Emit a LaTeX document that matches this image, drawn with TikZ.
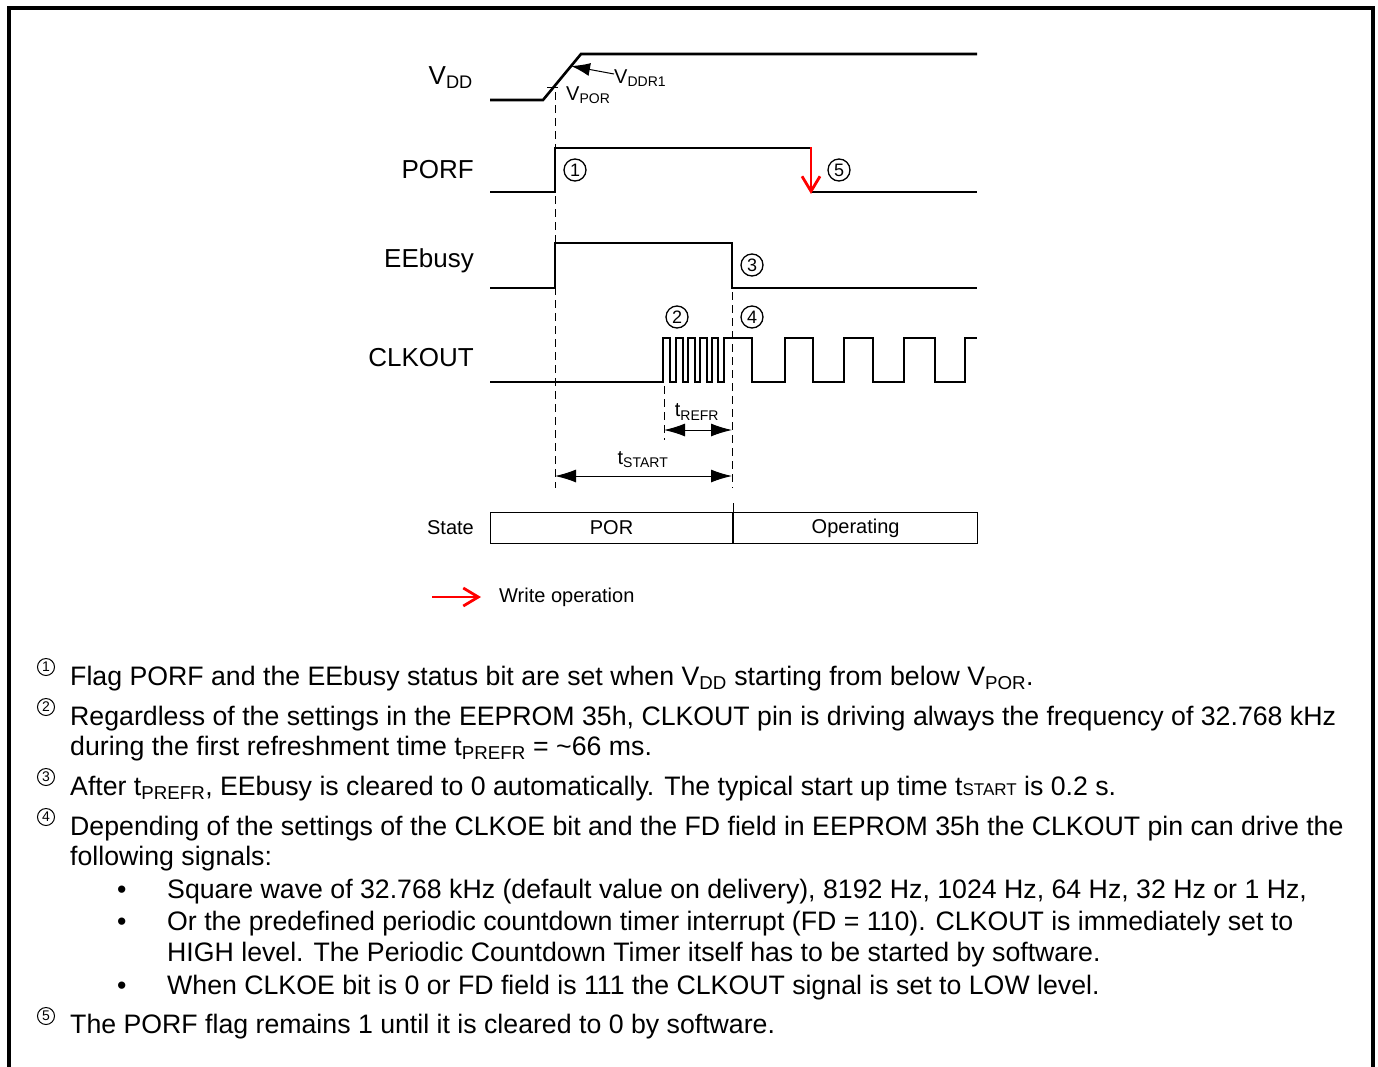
\documentclass[tikz,border=0pt]{standalone}
\usepackage{fontspec}
\setmainfont{Liberation Sans}
\usetikzlibrary{arrows.meta, positioning}
\definecolor{writered}{RGB}{255,0,0}
\newcommand{\sz}[1]{\fontsize{#1}{#1}\selectfont}

\begin{document}
\begin{tikzpicture}[
    x=1pt, y=-1pt,
    every node/.style={inner sep=0pt},
    signal/.style={line width=2.6pt, line join=miter},
    guide/.style={line width=0.9pt, dash pattern=on 8pt off 5pt},
    dimarrow/.style={line width=1pt, {Latex[length=21pt,width=13pt]}-{Latex[length=21pt,width=13pt]}},
    writearrow/.style={line width=2.8pt, writered, -{Straight Barb[length=15pt,width=18pt]}},
    siglabel/.style={font=\sz{26}, anchor=east},
    smalllabel/.style={font=\sz{20}},
    statebox/.style={draw, line width=1.1pt, minimum height=31pt, font=\sz{20}},
    marker/.style={circle, draw, line width=1.3pt, minimum size=22pt, font=\sz{18}},
    notenum/.style={circle, draw, line width=1pt, minimum size=17pt, font=\sz{14}},
    notetext/.style={font=\fontsize{26.7}{30}\selectfont, anchor=base west}
]
\useasboundingbox (0,0) rectangle (1378,1066);

% frame
\draw[line width=3.5pt] (9,1072) -- (9,8) -- (1373,8) -- (1373,1072);

% signal names
\node[siglabel] (vddlbl) at (473,78) {V\textsubscript{DD}};
\node[siglabel] (porflbl) at (474,170) {PORF};
\node[siglabel] (eebusylbl) at (474,261) {EEbusy};
\node[siglabel] (clkoutlbl) at (474,358) {CLKOUT};
\node[smalllabel, anchor=east] (statelbl) at (474,528) {State};

% waveforms
\draw[signal] (490,100) -- (543,100) -- (581,54) -- (977,54);
\draw[signal] (490,192) -- (555,192) -- (555,148) -- (811,148);
\draw[signal] (811,192) -- (977,192);
\draw[signal] (490,288) -- (555,288) -- (555,243) -- (732,243) -- (732,288) -- (977,288);
\draw[signal] (490,382) -- (663,382)
    \foreach \r/\f in {663/670,676/683,688/695,700/707,712/718} { -- (\r,382) -- (\r,338) -- (\f,338) -- (\f,382) }
    -- (724,382) -- (724,338)
    \foreach \f/\r in {752/785,813/844,873/904,935/965} { -- (\f,338) -- (\f,382) -- (\r,382) -- (\r,338) }
    -- (977,338);

% VDD thresholds
\coordinate (vpor) at (553,87);
\draw[line width=0.9pt] ([xshift=-6pt]vpor) -- ([xshift=5pt]vpor);
\node[smalllabel, anchor=west] (vporlbl) at (566,95) {V\textsubscript{POR}};
\node[smalllabel, anchor=west] (vddrlbl) at (614,78) {V\textsubscript{DDR1}};
\coordinate (vddr) at (571,66);
\draw[line width=1pt, -{Latex[length=19pt,width=13pt]}] ([yshift=4pt]vddrlbl.west) -- (vddr);

% write operation on PORF
\draw[writearrow] (811,147) -- (811,194);

% circled markers
\node[marker] (mark1) at (575,170) {1};
\node[marker] (mark5) at (839,170) {5};
\node[marker] (mark3) at (752,265) {3};
\node[marker] (mark2) at (677,317) {2};
\node[marker] (mark4) at (752,317) {4};

% timing guides
\coordinate (startl) at (555,476);
\coordinate (startr) at (732,476);
\coordinate (refrl) at (664,430);
\coordinate (refrr) at (732,430);
\draw[guide] (555,92) -- (555,488);
\draw[guide] (732,292) -- (732,488);
\draw[guide] (664,386) -- (664,440);
\draw[dimarrow] (refrl) -- (refrr);
\draw[dimarrow] (startl) -- (startr);
\node[smalllabel] (trefr) at (697,412) {t\textsubscript{REFR}};
\node[smalllabel] (tstart) at (643,460) {t\textsubscript{START}};

% state bar
\node[statebox, minimum width=242pt, anchor=north west] (porbox) at (490,512) {POR};
\node[statebox, minimum width=244pt, right=0pt of porbox] (opbox) {Operating};
\draw[line width=1.1pt] (porbox.north east) -- ++(0,-9);

% legend
\node[smalllabel, anchor=west] (legend) at (499,597) {Write operation};
\draw[writearrow] ([xshift=-67pt]legend.west) -- ([xshift=-18pt]legend.west);

% notes
\node[notenum] (num1) at (46,667) {1};
\node[notetext] (note1) at (70,685) {Flag PORF and the EEbusy status bit are set when V\textsubscript{DD} starting from below V\textsubscript{POR}.};
\node[notenum] (num2) at (46,707) {2};
\node[notetext] (note2a) at (70,725) {Regardless of the settings in the EEPROM 35h, CLKOUT pin is driving always the frequency of 32.768 kHz};
\node[notetext] (note2b) at (70,755) {during the first refreshment time t\textsubscript{PREFR} = \textasciitilde66 ms.};
\node[notenum] (num3) at (46,777) {3};
\node[notetext] (note3) at (70,795) {After t\textsubscript{PREFR}, EEbusy is cleared to 0 automatically. The typical start up time t{\sz{17}START} is 0.2 s.};
\node[notenum] (num4) at (46,817) {4};
\node[notetext] (note4a) at (70,835) {Depending of the settings of the CLKOE bit and the FD field in EEPROM 35h the CLKOUT pin can drive the};
\node[notetext] (note4b) at (70,865) {following signals:};
\node[notetext] (bul1) at (117,898) {•};
\node[notetext] (item1) at (167,898) {Square wave of 32.768 kHz (default value on delivery), 8192 Hz, 1024 Hz, 64 Hz, 32 Hz or 1 Hz,};
\node[notetext] (bul2) at (117,930) {•};
\node[notetext] (item2a) at (167,930) {Or the predefined periodic countdown timer interrupt (FD = 110). CLKOUT is immediately set to};
\node[notetext] (item2b) at (167,961) {HIGH level. The Periodic Countdown Timer itself has to be started by software.};
\node[notetext] (bul3) at (117,994) {•};
\node[notetext] (item3) at (167,994) {When CLKOE bit is 0 or FD field is 111 the CLKOUT signal is set to LOW level.};
\node[notenum] (num5) at (46,1016) {5};
\node[notetext] (note5) at (70,1033) {The PORF flag remains 1 until it is cleared to 0 by software.};

\end{tikzpicture}
\end{document}
